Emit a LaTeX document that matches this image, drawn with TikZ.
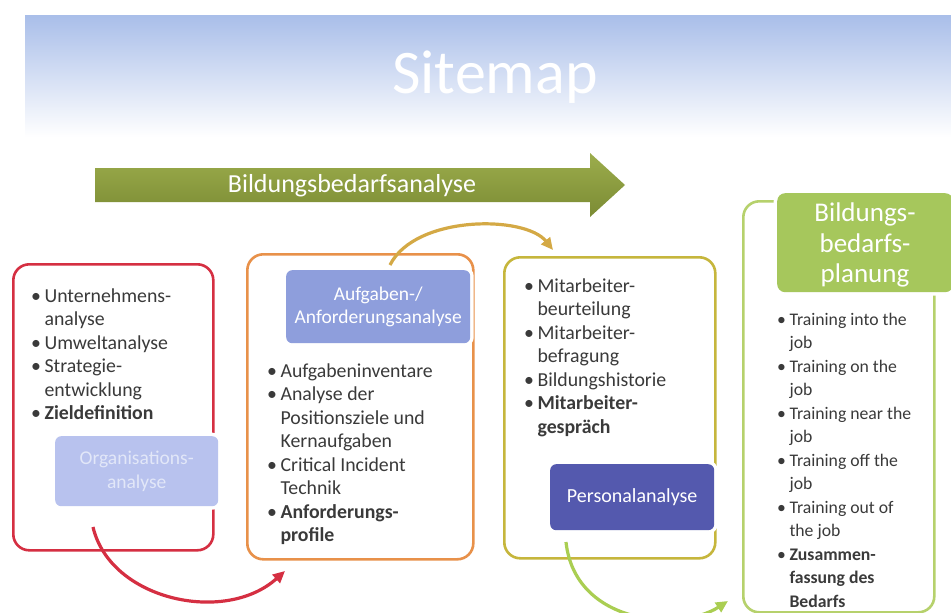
\documentclass[tikz,border=0pt]{standalone}
\usepackage{fontspec}
\setmainfont{Carlito}
\usetikzlibrary{arrows.meta}
\definecolor{band}{HTML}{A9BEE9}
\definecolor{arrtop}{HTML}{9CAD4C}
\definecolor{arrbot}{HTML}{7B8B34}
\definecolor{cred}{HTML}{D52F42}
\definecolor{corange}{HTML}{E8914A}
\definecolor{colive}{HTML}{C6B63C}
\definecolor{cgreen}{HTML}{B6D16C}
\definecolor{tgreen}{HTML}{A6C75C}
\definecolor{cgold}{HTML}{D4A945}
\definecolor{carrgreen}{HTML}{AACE52}
\definecolor{orgfill}{HTML}{B8C2EE}
\definecolor{orgtext}{HTML}{E2E7F8}
\definecolor{auffill}{HTML}{8E9EDC}
\definecolor{persfill}{HTML}{5459AE}
\definecolor{txt}{HTML}{3A3A3A}
\newcommand{\bodyfont}{\fontsize{19.8}{23.5}\selectfont}
\newcommand{\smallbody}{\fontsize{17.7}{23.5}\selectfont}
\tikzset{
  bigbox/.style={draw, rounded corners=16, line width=2.6, anchor=north west, inner sep=0},
  lblbox/.style={preaction={draw=white, line width=7}, rounded corners=6, anchor=north west, inner sep=0, align=center, text=white, font=\fontsize{19.5}{23.5}\selectfont},
  blist/.style={anchor=base west, inner sep=0, text=txt, font=\bodyfont},
  flow/.style={line width=3.2, -{Triangle[length=12, width=11]}}
}
\begin{document}
\begin{tikzpicture}[x=1pt,y=-1pt]
\useasboundingbox (0,0) rectangle (951,613);
\fill[white] (0,0) rectangle (951,613);
% title band
\shade[top color=band, middle color=band!70, bottom color=white] (25,15) rectangle (951,137);
\node[text=white, font=\fontsize{62}{70}\selectfont, inner sep=0] (title) at (495,77) {Sitemap};
% big arrow
\shade[top color=arrtop, bottom color=arrbot] (95,168) -- (590,168) -- (590,153) -- (625,185) -- (590,217) -- (590,202) -- (95,202) -- cycle;
\node[text=white, font=\fontsize{26}{30}\selectfont, inner sep=0] (bba) at (352,186) {Bildungsbedarfsanalyse};

% boxes
\node[bigbox, draw=cred, minimum width=200, minimum height=286] (b1) at (12,263) {};
\node[bigbox, draw=corange, minimum width=226, minimum height=305] (b2) at (246,253) {};
\node[bigbox, draw=colive, minimum width=211, minimum height=301] (b3) at (503,256) {};
\node[bigbox, draw=cgreen, minimum width=191, minimum height=411] (b4) at (742,200) {};

% label boxes
\node[lblbox, fill=orgfill, text=orgtext, minimum width=163, minimum height=70] (org) at (55,436) {Organisations-\\analyse};
\node[lblbox, fill=auffill, minimum width=184, minimum height=73] (auf) at (286,270) {Aufgaben-/\\Anforderungsanalyse};
\node[lblbox, fill=persfill, minimum width=164, minimum height=66, font=\fontsize{20}{24}\selectfont] (pers) at (550,464) {Personalanalyse};
\node[lblbox, fill=tgreen, rounded corners=8, minimum width=176, minimum height=99] (bbp) at (777,193) {};
\node[text=white, align=center, font=\fontsize{27}{30.5}\selectfont, inner sep=0] (bbpt) at (865,245) {Bildungs-\\bedarfs-\\planung};

% lists
\node[blist] (l1) at (31,302) {\begin{tabular}[t]{@{}l@{\hspace{3.5pt}}l@{}}
\textbullet & Unternehmens-\\ & analyse\\
\textbullet & Umweltanalyse\\
\textbullet & Strategie-\\ & entwicklung\\
\textbullet & \textbf{Zieldefinition}
\end{tabular}};
\node[blist] (l2) at (267,377) {\begin{tabular}[t]{@{}l@{\hspace{3.5pt}}l@{}}
\textbullet & Aufgabeninventare\\
\textbullet & Analyse der\\ & Positionsziele und\\ & Kernaufgaben\\
\textbullet & Critical Incident\\ & Technik\\
\textbullet & \textbf{Anforderungs-}\\ & \textbf{profile}
\end{tabular}};
\node[blist] (l3) at (524,292) {\begin{tabular}[t]{@{}l@{\hspace{3.5pt}}l@{}}
\textbullet & Mitarbeiter-\\ & beurteilung\\
\textbullet & Mitarbeiter-\\ & befragung\\
\textbullet & Bildungshistorie\\
\textbullet & \textbf{Mitarbeiter-}\\ & \textbf{gespräch}
\end{tabular}};
\node[blist, font=\smallbody] (l4) at (777,325) {\begin{tabular}[t]{@{}l@{\hspace{3.5pt}}l@{}}
\textbullet & Training into the\\ & job\\
\textbullet & Training on the\\ & job\\
\textbullet & Training near the\\ & job\\
\textbullet & Training off the\\ & job\\
\textbullet & Training out of\\ & the job\\
\textbullet & \textbf{Zusammen-}\\ & \textbf{fassung des}\\ & \textbf{Bedarfs}
\end{tabular}};

% connectors
\coordinate (r0) at (93,527);
\coordinate (r1) at (285,571);
\draw[flow, cred] (r0) .. controls (110,600) and (225,625) .. (r1);
\coordinate (o0) at (390,265);
\coordinate (o1) at (553,250);
\draw[flow, cgold] (o0) .. controls (415,215) and (525,215) .. (o1);
\coordinate (g0) at (566,542);
\coordinate (g1) at (728,601);
\draw[flow, carrgreen] (g0) .. controls (575,625) and (680,632) .. (g1);
\end{tikzpicture}
\end{document}
